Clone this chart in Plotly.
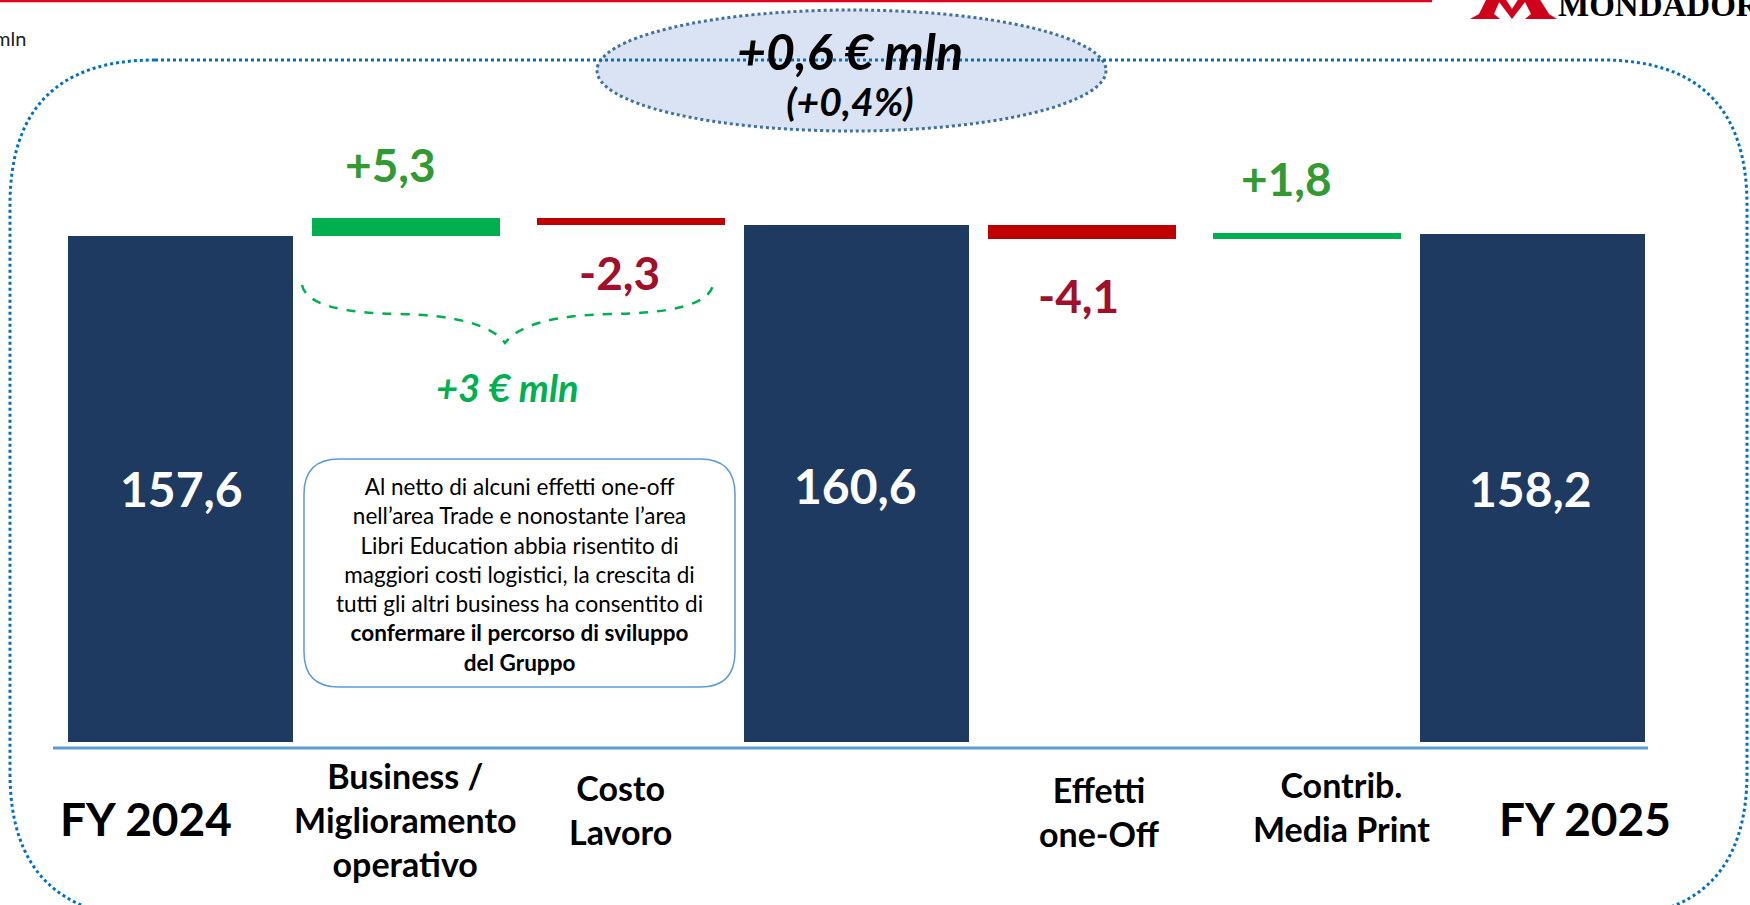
import plotly.graph_objects as go

# ---------------- data ----------------
categories = ["FY 2024", "Business /<br>Miglioramento<br>operativo", "Costo<br>Lavoro", "",
              "Effetti<br>one-Off", "Contrib.<br>Media Print", "FY 2025"]
kinds = ["total", "delta", "delta", "total", "delta", "delta", "total"]
values = [157.6, 5.3, -2.3, 160.6, -4.1, 1.8, 158.2]
value_labels = ["157,6", "+5,3", "-2,3", "160,6", "-4,1", "+1,8", "158,2"]
headline = "+0,6 € mln"
headline_pct = "(+0,4%)"
subtotal_note = "+3 € mln"
note_lines = ["Al netto di alcuni effetti one-off",
              "nell’area Trade e nonostante l’area",
              "Libri Education abbia risentito di",
              "maggiori costi logistici, la crescita di",
              "tutti gli altri business ha consentito di",
              "<b>confermare il percorso di sviluppo</b>",
              "<b>del Gruppo</b>"]

# ---------------- layout geometry ----------------
W, H = 1750, 905
L, R, T, B = 68, 105, 100, 163
PW, PH = W - L - R, H - T - B
Y0, Y1 = 8.7, 197.5

def fx(px):
    return (px - L) / PW

def fy(py):
    return (H - B - py) / PH

NAVY = "#1F3A60"
GREEN_BAR = "#00B050"
RED_BAR = "#C00000"
GREEN_TXT = "#339933"
RED_TXT = "#A0102A"
FONT = "Lato, Open Sans, sans-serif"

# waterfall bases
bases, heights, colors, widths = [], [], [], []
running = 0.0
for k, v in zip(kinds, values):
    if k == "total":
        bases.append(0)
        heights.append(v)
        colors.append(NAVY)
        widths.append(0.998)
        running = v
    else:
        bases.append(running)
        heights.append(v)
        colors.append(GREEN_BAR if v > 0 else RED_BAR)
        widths.append(0.834)
        running += v

xs = list(range(len(categories)))

fig = go.Figure()
fig.add_trace(go.Bar(x=xs, y=heights, base=bases, width=widths,
                     marker=dict(color=colors, line=dict(width=0)),
                     hoverinfo="skip", showlegend=False))

ann = []

# value labels
label_pos = {0: (181.7, 488), 1: (390.5, 165), 2: (619.5, 272), 3: (855.5, 485),
             4: (1078, 295), 5: (1286, 178), 6: (1530, 488)}
label_size = {0: 48, 1: 46, 2: 46, 3: 48, 4: 46, 5: 46, 6: 48}
for i, (k, v) in enumerate(zip(kinds, values)):
    if k == "total":
        col = "white"
    else:
        col = GREEN_TXT if v > 0 else RED_TXT
    px, py = label_pos[i]
    ann.append(dict(x=fx(px), y=fy(py), xref="paper", yref="paper",
                    text="<b>%s</b>" % value_labels[i], showarrow=False,
                    xanchor="center", yanchor="middle",
                    font=dict(family=FONT, size=label_size[i], color=col)))

# category labels
cat_pos = {0: (146, 818, 46), 1: (404.6, 820, 34), 2: (620.5, 809, 34),
           4: (1099, 812, 34), 5: (1341.5, 806.5, 34), 6: (1585, 818, 46)}
for i, c in enumerate(categories):
    if not c:
        continue
    px, py, sz = cat_pos[i]
    ann.append(dict(x=fx(px), y=fy(py), xref="paper", yref="paper",
                    text="<b>%s</b>" % c, showarrow=False,
                    xanchor="center", yanchor="middle", align="center",
                    font=dict(family=FONT, size=sz, color="black")))

# headline in ellipse (single two-line text)
ann.append(dict(x=fx(850), y=fy(73), xref="paper", yref="paper",
                text=("<b><i><span style='font-size:50px'>%s</span><br>"
                      "<span style='font-size:39px'>%s</span></i></b>") % (headline, headline_pct),
                showarrow=False, xanchor="center", yanchor="middle", align="center",
                font=dict(family=FONT, size=35, color="black")))

# +3 € mln
ann.append(dict(x=fx(507.5), y=fy(387), xref="paper", yref="paper",
                text="<b><i>%s</i></b>" % subtotal_note, showarrow=False,
                xanchor="center", yanchor="middle",
                font=dict(family=FONT, size=38, color="#00B050")))

# note box text
ann.append(dict(x=fx(519.5), y=fy(574), xref="paper", yref="paper",
                text="<br>".join(note_lines), showarrow=False,
                xanchor="center", yanchor="middle", align="center",
                font=dict(family=FONT, size=22.5, color="black")))

# top-left unit text
ann.append(dict(x=fx(28), y=fy(38), xref="paper", yref="paper",
                text="Dati in € mln", showarrow=False,
                xanchor="right", yanchor="middle",
                font=dict(family=FONT, size=20, color="#222222")))

# logo text
ann.append(dict(x=fx(1556), y=fy(5), xref="paper", yref="paper",
                text="<b>MONDADORI</b>", showarrow=False,
                xanchor="left", yanchor="middle",
                font=dict(family="Liberation Serif, serif", size=33, color="black")))

# ---------------- shapes ----------------
def pt(x, y):
    return "%.5f,%.5f" % (fx(x), fy(y))

def rrect(x0, y0, x1, y1, r):
    return ("M " + pt(x0 + r, y0) + " L " + pt(x1 - r, y0) +
            " Q " + pt(x1, y0) + " " + pt(x1, y0 + r) +
            " L " + pt(x1, y1 - r) +
            " Q " + pt(x1, y1) + " " + pt(x1 - r, y1) +
            " L " + pt(x0 + r, y1) +
            " Q " + pt(x0, y1) + " " + pt(x0, y1 - r) +
            " L " + pt(x0, y0 + r) +
            " Q " + pt(x0, y0) + " " + pt(x0 + r, y0) + " Z")

shapes = []
# red top line
shapes.append(dict(type="line", xref="paper", yref="paper",
                   x0=fx(0), x1=fx(1432), y0=fy(1), y1=fy(1),
                   line=dict(color="#E0001B", width=2.5)))
# dotted frame
shapes.append(dict(type="path", xref="paper", yref="paper",
                   path=rrect(10, 60, 1747, 918, 145),
                   line=dict(color="#0070C0", width=3, dash="dot")))
# ellipse
shapes.append(dict(type="circle", xref="paper", yref="paper",
                   x0=fx(597), x1=fx(1106), y0=fy(131), y1=fy(10),
                   fillcolor="#DAE3F3",
                   line=dict(color="#41719C", width=3, dash="dot"),
                   layer="below"))
# brace
brace = ("M " + pt(302, 285) + " Q " + pt(308, 313) + " " + pt(400, 314) +
         " Q " + pt(485, 316) + " " + pt(505, 343) +
         " Q " + pt(525, 316) + " " + pt(610, 314) +
         " Q " + pt(707, 313) + " " + pt(713, 285))
shapes.append(dict(type="path", xref="paper", yref="paper", path=brace,
                   line=dict(color="#00B050", width=2.5, dash="dash")))
# note box
shapes.append(dict(type="path", xref="paper", yref="paper",
                   path=rrect(304, 459, 735, 687, 35),
                   fillcolor="white",
                   line=dict(color="#5B9BD5", width=1.5), layer="below"))
# baseline
shapes.append(dict(type="line", xref="paper", yref="paper",
                   x0=fx(53), x1=fx(1648), y0=fy(748), y1=fy(748),
                   line=dict(color="#5B9BD5", width=3)))
# logo M (red)
for poly in [[(1470, 19), (1500, 19), (1494, 14), (1501, -2), (1487, -2), (1479, 14)],
             [(1496, -2), (1512, 19), (1528, -2), (1519, -2), (1512, 9), (1505, -2)],
             [(1523, -2), (1531, 14), (1525, 19), (1557, 19), (1549, 14), (1539, -2)]]:
    p = "M " + " L ".join(pt(a, b) for a, b in poly) + " Z"
    shapes.append(dict(type="path", xref="paper", yref="paper", path=p,
                       fillcolor="#D0021B", line=dict(width=0)))

fig.update_layout(
    width=W, height=H,
    margin=dict(l=L, r=R, t=T, b=B, pad=0),
    paper_bgcolor="white", plot_bgcolor="white",
    xaxis=dict(range=[-0.5, 6.5], showgrid=False, zeroline=False,
               showticklabels=False, showline=False, fixedrange=True),
    yaxis=dict(range=[Y0, Y1], showgrid=False, zeroline=False,
               showticklabels=False, showline=False, fixedrange=True),
    annotations=ann, shapes=shapes, bargap=0,
    showlegend=False,
)

fig.write_html("out.html", config={"displayModeBar": False})
